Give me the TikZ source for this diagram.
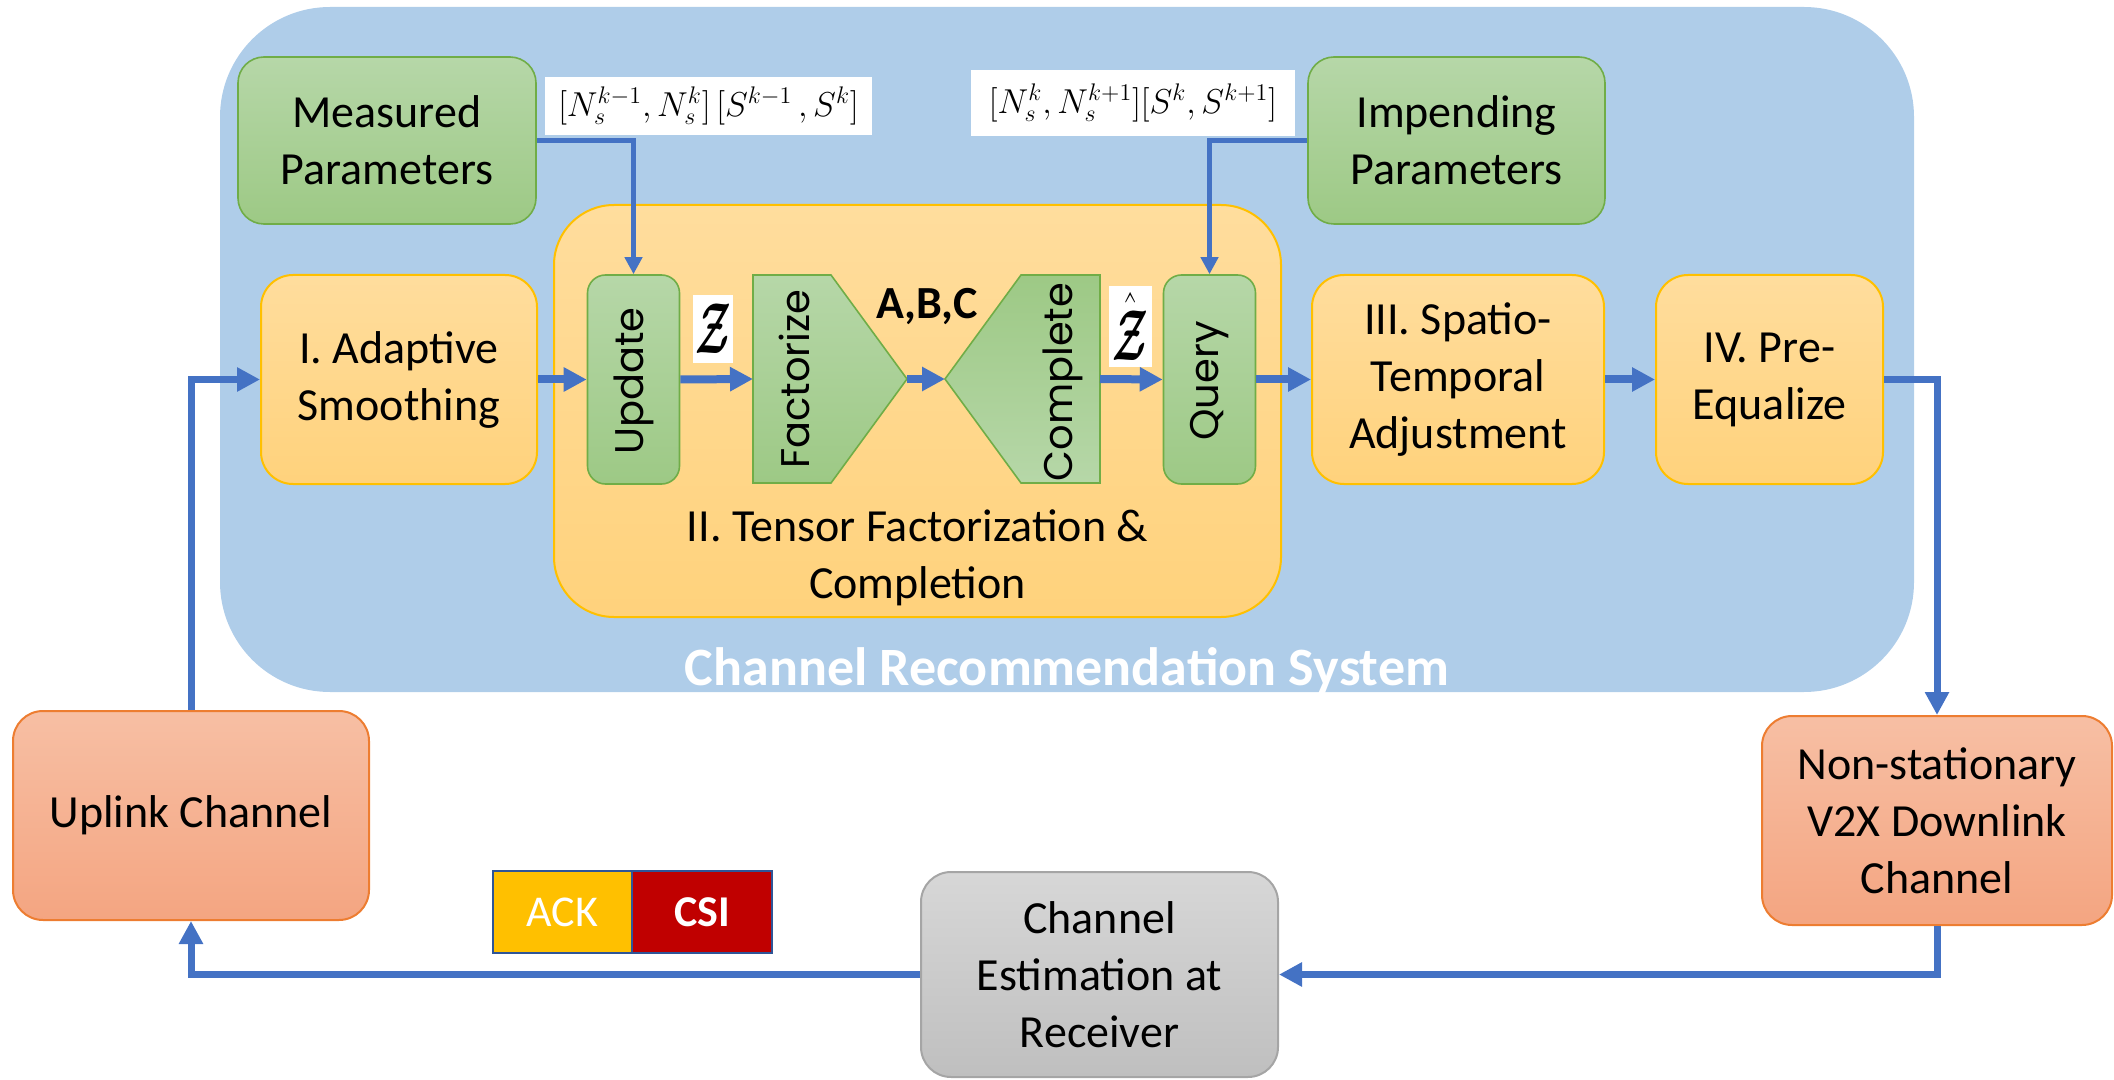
\documentclass[tikz,border=0pt]{standalone}
\usepackage{amsmath,amssymb}
\usepackage{graphicx}
\usepackage{fontspec}
\setmainfont{Carlito}
\newfontfamily\geofont{Poppins}
\usetikzlibrary{arrows.meta,calc}

\definecolor{sysblue}{RGB}{175,205,233}
\definecolor{greentop}{RGB}{182,215,168}
\definecolor{greenbot}{RGB}{157,201,133}
\definecolor{greenline}{RGB}{112,173,71}
\definecolor{oratop}{RGB}{255,221,157}
\definecolor{orabot}{RGB}{255,210,124}
\definecolor{oraline}{RGB}{255,192,0}
\definecolor{saltop}{RGB}{247,191,164}
\definecolor{salbot}{RGB}{244,165,129}
\definecolor{salline}{RGB}{237,125,49}
\definecolor{graytop}{RGB}{215,215,215}
\definecolor{graybot}{RGB}{191,191,191}
\definecolor{grayline}{RGB}{165,165,165}
\definecolor{flowblue}{RGB}{68,114,196}
\definecolor{ackyellow}{RGB}{255,192,0}
\definecolor{csired}{RGB}{192,0,0}
\definecolor{tagline}{RGB}{47,85,151}

\tikzset{
  lbl/.style={font=\fontsize{23}{28.5}\selectfont, align=center, inner sep=0pt},
  greenbox/.style={lbl, draw=greenline, line width=0.8pt, top color=greentop,
    bottom color=greenbot, rounded corners=13pt},
  thinstage/.style={greenbox, rounded corners=9pt, minimum width=46pt, minimum height=104.5pt},
  orabox/.style={lbl, draw=oraline, line width=1pt, top color=oratop,
    bottom color=orabot, rounded corners=16pt},
  salbox/.style={lbl, draw=salline, line width=1pt, top color=saltop,
    bottom color=salbot, rounded corners=15pt},
  graybox/.style={lbl, draw=grayline, line width=1pt, top color=graytop,
    bottom color=graybot, rounded corners=15pt},
  vtext/.style={font=\geofont\fontsize{20}{20}\selectfont, rotate=90, inner sep=0pt},
  tag/.style={fill=white, inner sep=0pt},
  flow/.style={draw=flowblue, line width=4pt, -{Triangle[length=11.5pt,width=11.5pt]}},
  loop/.style={draw=flowblue, line width=3.5pt, -{Triangle[length=11.5pt,width=11.5pt]}},
  feed/.style={draw=flowblue, line width=2.8pt, -{Triangle[length=8.5pt,width=8.5pt]}},
  flag/.style={font=\fontsize{22}{22}\selectfont, text=white, draw=tagline,
    line width=1pt, minimum height=41pt, minimum width=70pt, inner sep=0pt}
}

% bold calligraphic tensor symbol, stretched to a tall narrow glyph
\newcommand{\tensorZ}{\scalebox{0.8}[1.45]{$\boldsymbol{\mathcal{Z}}$}}
\newcommand{\tensorZhat}{\scalebox{0.8}[1.45]{$\hat{\boldsymbol{\mathcal{Z}}}$}}

\begin{document}
\begin{tikzpicture}[x=0.5pt,y=-0.5pt]
\useasboundingbox (0,0) rectangle (2114,1080);

% recommendation system container
\node[fill=sysblue, rounded corners=55pt, minimum width=847pt, minimum height=342.5pt,
  inner sep=0pt] (sys) at (1067,349.5) {};
\node[font=\bfseries\fontsize{27}{27}\selectfont, text=white, anchor=base] (systitle)
  at (1067,685) {Channel Recommendation System};

% stage II container
\node[orabox, rounded corners=30pt, minimum width=363.5pt, minimum height=206pt] (tensor)
  at (917.5,411) {};
\node[lbl, anchor=base] (tensortitle) at (917.5,598)
  {II. Tensor Factorization \&\\Completion};

% parameter sources
\node[greenbox, minimum width=149pt, minimum height=83.5pt] (meas) at (387,140.5)
  {Measured\\Parameters};
\node[greenbox, minimum width=148.5pt, minimum height=83.5pt] (imp) at (1456.5,140.5)
  {Impending\\Parameters};

\node[tag, minimum width=163.5pt, minimum height=29pt] (tagA) at (708.5,106)
  {\fontsize{17.5}{17.5}\selectfont$[N_s^{k-1},N_s^{k}]\,[S^{k-1}\,,S^{k}]$};
\node[tag, minimum width=162pt, minimum height=33pt] (tagB) at (1133,103)
  {\fontsize{18}{18}\selectfont$[N_s^{k},N_s^{k+1}][S^{k},S^{k+1}]$};

% main processing chain
\node[orabox, minimum width=138pt, minimum height=104.5pt] (smooth) at (399,379.5)
  {I. Adaptive\\Smoothing};
\node[thinstage] (upd) at (633.5,379.5) {};
\node[vtext] (updtxt) at (633.5,381) {Update};

\fill[top color=greentop, bottom color=greenbot, draw=greenline, line width=0.8pt]
  (753,275) -- (831,275) -- (907,379) -- (831,483) -- (753,483) -- cycle;
\coordinate (facW) at (753,379);
\coordinate (facE) at (907,379);
\node[vtext] (fac) at (794,379) {Factorize};

\fill[top color=greenbot, bottom color=greentop, draw=greenline, line width=0.8pt]
  (1100,275) -- (1021,275) -- (945,379) -- (1021,483) -- (1100,483) -- cycle;
\coordinate (comW) at (945,379);
\coordinate (comE) at (1100,379);
\node[vtext] (com) at (1063,382) {Complete};

\node[font=\bfseries\fontsize{23}{23}\selectfont, anchor=base, inner sep=0pt] (abc)
  at (927,319) {A,B,C};

\node[thinstage] (qry) at (1209.5,379.5) {};
\node[vtext] (qrytxt) at (1209.5,381) {Query};

\node[tag, minimum width=20pt, minimum height=34pt] (zin) at (713,329)
  {\fontsize{24}{24}\selectfont\tensorZ};
\node[tag, minimum width=21.5pt, minimum height=40.5pt] (zout) at (1130.5,326.5)
  {\fontsize{24}{24}\selectfont\tensorZhat};

\node[orabox, minimum width=146pt, minimum height=104.5pt] (adj) at (1458,379.5)
  {III. Spatio-\\Temporal\\Adjustment};
\node[orabox, minimum width=113.5pt, minimum height=104.5pt] (preq) at (1769.5,379.5)
  {IV. Pre-\\Equalize};

% link blocks
\node[salbox, minimum width=175pt, minimum height=104.5pt] (down) at (1937,820.5)
  {Non-stationary\\V2X Downlink\\Channel};
\node[graybox, minimum width=178.5pt, minimum height=102.5pt] (est) at (1099.5,974.5)
  {Channel\\Estimation at\\Receiver};
\node[salbox, minimum width=178pt, minimum height=104.5pt] (up) at (191,815.5)
  {Uplink Channel};

% feedback contents
\node[flag, fill=ackyellow] (ack) at (562.5,912) {ACK};
\node[flag, fill=csired, font=\bfseries\fontsize{22}{22}\selectfont] (csi) at (702,912) {CSI};

% connectors
\draw[feed] (meas.east) -| (upd.north);
\draw[feed] (imp.west) -| (qry.north);
\draw[flow] (smooth.east) -- (upd.west);
\draw[flow] (upd.east) -- (facW);
\draw[flow] (facE) -- (comW);
\draw[flow] (comE) -- (qry.west);
\draw[flow] (qry.east) -- (adj.west);
\draw[flow] (adj.east) -- (preq.west);
\draw[loop] (preq.east) -| (down.north);
\draw[loop] (down.south) |- (est.east);
\draw[loop] (est.west) -| (up.south);
\draw[loop] (up.north) |- (smooth.west);
\end{tikzpicture}
\end{document}
